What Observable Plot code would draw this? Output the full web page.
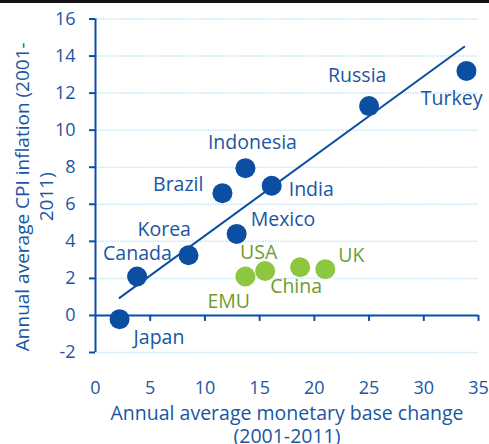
<!DOCTYPE html>
<html>
<head>
<meta charset="utf-8">
<script src="https://cdn.jsdelivr.net/npm/d3@7"></script>
<script src="https://cdn.jsdelivr.net/npm/@observablehq/plot@0.6"></script>
<style>
  html, body { margin: 0; padding: 0; background: #fff; }
  #wrap { position: relative; width: 489px; height: 444px; overflow: hidden; }
  #topbar { position: absolute; left: 0; top: 0; width: 489px; height: 3px; background: #111; }
  svg { font-family: "Open Sans", Lato, sans-serif; font-weight: 500; }
</style>
</head>
<body>
<div id="wrap"><div id="topbar"></div></div>
<script>
// Data
const countries   = ["Japan", "Canada", "Korea", "Mexico", "Brazil", "Indonesia", "India", "Russia", "Turkey", "EMU", "USA", "China", "UK"];
const baseChange  = [2.2, 3.8, 8.5, 12.9, 11.6, 13.7, 16.1, 25.0, 33.9, 13.7, 15.5, 18.7, 21.0];
const cpiInflation = [-0.2, 2.1, 3.25, 4.4, 6.6, 7.95, 7.0, 11.3, 13.2, 2.1, 2.4, 2.6, 2.5];
const groups      = ["em", "em", "em", "em", "em", "em", "em", "em", "em", "adv", "adv", "adv", "adv"];
const trendX = [2.2, 33.7];
const trendY = [0.95, 14.5];
const xTicks = [0, 5, 10, 15, 20, 25, 30, 35];
const yTicks = [-2, 0, 2, 4, 6, 8, 10, 12, 14, 16];
const xTitle = "Annual average monetary base change\n(2001-2011)";
const yTitle = "Annual average CPI inflation (2001-\n2011)";

// Label layout (pixel offsets from each point), kept apart from the data
const labelLayout = {
  Japan:     {dx: 14,  dy: 19,  anchor: "start"},
  Canada:    {dx: -34, dy: -23, anchor: "start"},
  Korea:     {dx: -51, dy: -25, anchor: "start"},
  Mexico:    {dx: 14,  dy: -14, anchor: "start"},
  Brazil:    {dx: -19, dy: -8,  anchor: "end"},
  Indonesia: {dx: 7,   dy: -25, anchor: "middle"},
  India:     {dx: 17,  dy: 4,   anchor: "start"},
  Russia:    {dx: -41, dy: -30, anchor: "start"},
  Turkey:    {dx: 16,  dy: 28,  anchor: "end"},
  EMU:       {dx: -38, dy: 25,  anchor: "start"},
  USA:       {dx: -25, dy: -18, anchor: "start"},
  China:     {dx: -30, dy: 19,  anchor: "start"},
  UK:        {dx: 13,  dy: -13, anchor: "start"}
};

const BLUE = "#0b4ea2";
const BLUE_TEXT = "#1a56a3";
const GREEN = "#8dc63f";
const GREEN_TEXT = "#6c9c30";
const GRID = "#c4e5f6";
const FONT = "'Open Sans', Lato, sans-serif";

const points = countries.map((c, i) => ({country: c, x: baseChange[i], y: cpiInflation[i], group: groups[i]}));
const trend = trendX.map((x, i) => ({x, y: trendY[i]}));

const labelMarks = points.map(p => {
  const L = labelLayout[p.country];
  return Plot.text([p], {
    x: "x", y: "y", text: "country",
    dx: L.dx, dy: L.dy, textAnchor: L.anchor,
    fill: p.group === "em" ? BLUE_TEXT : GREEN_TEXT,
    fontSize: 19.5, fontWeight: 500
  });
});

const chart = Plot.plot({
  width: 489,
  height: 444,
  marginLeft: 95,
  marginRight: 11,
  marginTop: 18.5,
  marginBottom: 92,
  x: {domain: [0, 35]},
  y: {domain: [-2, 16]},
  style: {fontFamily: FONT, color: BLUE_TEXT, background: "white"},
  marks: [
    Plot.ruleY(yTicks, {y: d => d, x1: 0, x2: 35, stroke: GRID, strokeWidth: 1.5, strokeDasharray: "1.5,1"}),
    Plot.ruleY([0], {x1: 0, x2: 35, stroke: BLUE, strokeWidth: 2}),
    Plot.ruleX(xTicks.slice(1), {x: d => d, y1: 0, y2: 0, insetBottom: -6, stroke: BLUE, strokeWidth: 2}),
    Plot.ruleX([0], {y1: -2, y2: 16, stroke: BLUE, strokeWidth: 2}),
    Plot.axisY({ticks: yTicks, tickSize: 6, tickPadding: 14, fontSize: 18, fontWeight: 500, label: null, stroke: BLUE, strokeWidth: 2, color: BLUE_TEXT, tickFormat: d => String(d)}),
    Plot.axisX({ticks: xTicks, tickSize: 0, tickPadding: 29, fontSize: 18, fontWeight: 500, label: null, color: BLUE_TEXT}),
    Plot.text([xTitle], {frameAnchor: "bottom", dy: 52, lineAnchor: "top", textAnchor: "middle", lineHeight: 1.15, fontSize: 19.5, fontWeight: 500, fill: BLUE_TEXT}),
    Plot.text([yTitle], {frameAnchor: "left", rotate: -90, dx: -62, dy: 11, lineAnchor: "middle", textAnchor: "middle", lineHeight: 1.25, fontSize: 19, fontWeight: 500, fill: BLUE_TEXT}),
    Plot.line(trend, {x: "x", y: "y", stroke: BLUE, strokeWidth: 2}),
    Plot.dot(points, {x: "x", y: "y", r: 10, fill: d => d.group === "em" ? BLUE : GREEN, stroke: "none"}),
    ...labelMarks
  ]
});

document.getElementById("wrap").prepend(chart);
</script>
</body>
</html>
